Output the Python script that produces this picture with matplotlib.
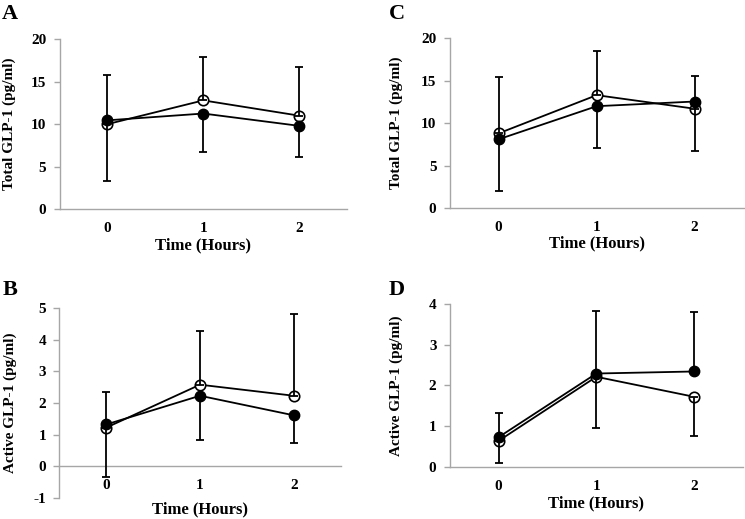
import matplotlib
matplotlib.use("Agg")
import matplotlib.pyplot as plt

plt.rcParams['font.family'] = ['Liberation Serif', 'DejaVu Serif']
plt.rcParams['font.weight'] = 'bold'
plt.rcParams['axes.unicode_minus'] = False

hours = [0, 1, 2]
xtick_labels = ['0', '1', '2']

# Panel A: Total GLP-1
A_open = [10.0, 12.8, 11.0]
A_open_up = [5.8, 5.1, 5.7]
A_filled = [10.45, 11.25, 9.8]
A_filled_down = [7.2, 4.55, 3.65]

# Panel C: Total GLP-1
C_open = [8.8, 13.3, 11.7]
C_open_up = [6.6, 5.25, 3.8]
C_filled = [8.1, 12.0, 12.55]
C_filled_down = [6.1, 4.9, 5.85]

# Panel B: Active GLP-1
B_open = [1.22, 2.58, 2.23]
B_open_up = [1.12, 1.71, 2.58]
B_filled = [1.32, 2.23, 1.61]
B_filled_down = [1.66, 1.41, 0.89]

# Panel D: Active GLP-1
D_open = [0.64, 2.21, 1.72]
D_open_down = [0.53, 1.25, 0.96]
D_filled = [0.73, 2.29, 2.34]
D_filled_up = [0.60, 1.53, 1.46]

fig = plt.figure(figsize=(7.45, 5.19), dpi=100)

spine_col = '#a6a6a6'


def panel(rect, open_v, open_err, filled_v, filled_err, ylim, yticks, ylabel,
          ylabel_x, xlabel_y, zero_axis=False):
    ax = fig.add_axes(rect)
    ax.plot(hours, open_v, color='black', lw=1.3, marker='o', ms=7.5,
            mfc='white', mec='black', mew=1.2, zorder=2)
    ax.plot(hours, filled_v, color='black', lw=1.3, marker='o', ms=7.5,
            mfc='black', mec='black', zorder=2.5)
    ax.errorbar(hours, open_v, yerr=open_err, fmt='none', ecolor='black',
                elinewidth=1.3, capsize=3, capthick=1.3, zorder=3)
    ax.errorbar(hours, filled_v, yerr=filled_err, fmt='none', ecolor='black',
                elinewidth=1.3, capsize=3, capthick=1.3, zorder=3)
    ax.set_xlim(-0.5, 2.5)
    ax.set_ylim(*ylim)
    ax.set_yticks(yticks)
    ax.set_xticks(hours)
    ax.set_xticklabels(xtick_labels)
    for s in ['top', 'right']:
        ax.spines[s].set_visible(False)
    for s in ['left', 'bottom']:
        ax.spines[s].set_color(spine_col)
        ax.spines[s].set_linewidth(1.0)
    if zero_axis:
        ax.spines['bottom'].set_position(('data', 0))
    ax.tick_params(axis='y', length=4.5, color=spine_col, width=1.0,
                   labelsize=11, pad=5)
    ax.tick_params(axis='x', length=0, labelsize=11, pad=9.5)
    for lab in ax.get_xticklabels() + ax.get_yticklabels():
        lab.set_fontweight('bold')
    ax.set_ylabel(ylabel, fontsize=11, fontweight='bold')
    ax.yaxis.set_label_coords(ylabel_x, 0.5)
    ax.yaxis.label.set_va('center')
    ax.set_xlabel('Time (Hours)', fontsize=12, fontweight='bold')
    ax.xaxis.set_label_coords(0.5, xlabel_y)
    ax.xaxis.label.set_va('center')
    return ax


panel([0.0799, 0.5973, 0.386, 0.327], A_open, [[0, 0, 0], A_open_up],
      A_filled, [A_filled_down, [0, 0, 0]], (0, 20), [0, 5, 10, 15, 20],
      'Total GLP-1 (pg/ml)', -0.176, -0.215)
panel([0.6036, 0.5992, 0.3946, 0.327], C_open, [[0, 0, 0], C_open_up],
      C_filled, [C_filled_down, [0, 0, 0]], (0, 20), [0, 5, 10, 15, 20],
      'Total GLP-1 (pg/ml)', -0.183, -0.21)
panel([0.0796, 0.041, 0.3777, 0.365], B_open, [[0, 0, 0], B_open_up],
      B_filled, [B_filled_down, [0, 0, 0]], (-1, 5), [-1, 0, 1, 2, 3, 4, 5],
      'Active GLP-1 (pg/ml)', -0.175, -0.06, zero_axis=True)
panel([0.6036, 0.1002, 0.3937, 0.3146], D_open, [D_open_down, [0, 0, 0]],
      D_filled, [[0, 0, 0], D_filled_up], (0, 4), [0, 1, 2, 3, 4],
      'Active GLP-1 (pg/ml)', -0.181, -0.222)

letters = [('A', 10, 14), ('C', 397, 14), ('B', 10, 290), ('D', 397, 290)]
for txt, px, py in letters:
    fig.text(px / 745, 1 - py / 519, txt, fontsize=16, fontweight='bold',
             ha='center', va='center')

fig.savefig('out.png', dpi=100)
